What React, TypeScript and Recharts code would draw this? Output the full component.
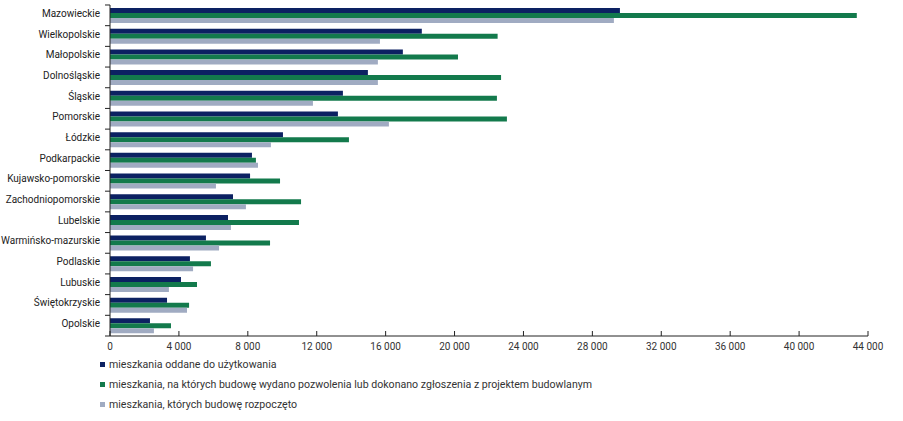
import { Bar, BarChart, Legend, XAxis, YAxis } from 'recharts'

const regions = [
  'Mazowieckie',
  'Wielkopolskie',
  'Małopolskie',
  'Dolnośląskie',
  'Śląskie',
  'Pomorskie',
  'Łódzkie',
  'Podkarpackie',
  'Kujawsko-pomorskie',
  'Zachodniopomorskie',
  'Lubelskie',
  'Warmińsko-mazurskie',
  'Podlaskie',
  'Lubuskie',
  'Świętokrzyskie',
  'Opolskie',
]

const completed = [29600, 18100, 17000, 14970, 13520, 13230, 10040, 8240, 8130, 7140, 6850, 5570, 4640, 4120, 3310, 2320]
const permitted = [43350, 22500, 20200, 22700, 22460, 23040, 13870, 8470, 9870, 11090, 10970, 9290, 5860, 5050, 4590, 3540]
const started = [29250, 15670, 15550, 15550, 11780, 16190, 9340, 8590, 6150, 7890, 7020, 6330, 4820, 3420, 4470, 2550]

const xTicks = [0, 4000, 8000, 12000, 16000, 20000, 24000, 28000, 32000, 36000, 40000, 44000]

const series = [
  { key: 'completed', name: 'mieszkania oddane do użytkowania', color: '#0c2162' },
  {
    key: 'permitted',
    name: 'mieszkania, na których budowę wydano pozwolenia lub dokonano zgłoszenia z projektem budowlanym',
    color: '#137a4c',
  },
  { key: 'started', name: 'mieszkania, których budowę rozpoczęto', color: '#a0abc2' },
]

const data = regions.map((region, i) => ({
  region,
  completed: completed[i],
  permitted: permitted[i],
  started: started[i],
}))

const FONT = 'Roboto, sans-serif'
const fmt = (v: number) => String(v).replace(/\B(?=(\d{3})+(?!\d))/g, ' ')

function XTick({ x, y, payload }: any) {
  return (
    <g>
      <line x1={x} x2={x} y1={y - 5} y2={y} stroke="#222" />
      <text x={x} y={y + 14} textAnchor="middle" fontSize={10} fill="#333" fontFamily={FONT}>
        {fmt(payload.value)}
      </text>
    </g>
  )
}

function YTick({ x, y, payload, index }: any) {
  const half = 10.35
  return (
    <g>
      <line x1={x - 5} x2={x} y1={y - half} y2={y - half} stroke="#222" />
      {index === regions.length - 1 && <line x1={x - 5} x2={x} y1={y + half} y2={y + half} stroke="#222" />}
      <text x={x - 10} y={y - 2} dy="0.35em" textAnchor="end" fontSize={10} fill="#222" fontFamily={FONT}>
        {payload.value}
      </text>
    </g>
  )
}

function LegendBox() {
  return (
    <div style={{ paddingLeft: 100, fontFamily: FONT, fontSize: 10.6, color: '#333' }}>
      {series.map((s) => (
        <div key={s.key} style={{ display: 'flex', alignItems: 'center', height: 20 }}>
          <span style={{ width: 5, height: 5, background: s.color, marginRight: 4 }} />
          {s.name}
        </div>
      ))}
    </div>
  )
}

export default function App() {
  return (
    <div style={{ position: 'absolute', left: 0, top: 0, background: '#fff' }}>
      <BarChart
        width={903}
        height={421}
        data={data}
        layout="vertical"
        margin={{ top: 5, right: 35, bottom: 0, left: 0 }}
        barSize={5}
        barGap={0}
      >
        <XAxis
          type="number"
          domain={[0, 44000]}
          ticks={xTicks}
          interval={0}
          tickSize={0}
          tickMargin={0}
          tick={<XTick />}
          axisLine={{ stroke: '#222' }}
          height={18}
        />
        <YAxis
          type="category"
          dataKey="region"
          width={110}
          tickSize={0}
          tickMargin={0}
          tick={<YTick />}
          interval={0}
          axisLine={{ stroke: '#222' }}
        />
        <Legend verticalAlign="bottom" align="left" height={67} content={<LegendBox />} />
        {series.map((s) => (
          <Bar key={s.key} dataKey={s.key} name={s.name} fill={s.color} isAnimationActive={false} />
        ))}
      </BarChart>
    </div>
  )
}
